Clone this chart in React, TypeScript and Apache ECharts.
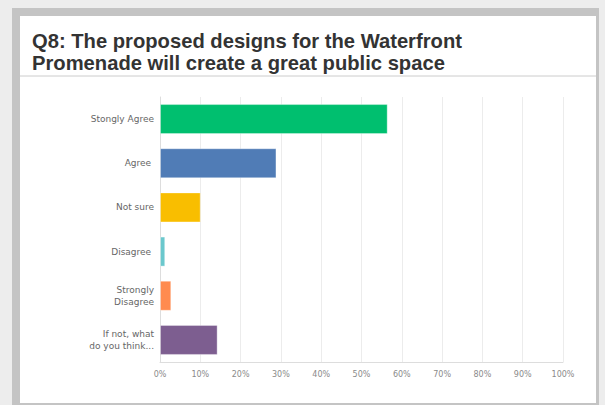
import React, { useEffect, useRef } from "react";
import * as echarts from "echarts";

const categories = [
  "Stongly Agree",
  "Agree ",
  "Not sure",
  "Disagree ",
  "Strongly\nDisagree",
  "If not, what\ndo you think...",
];
const values = [56.5, 28.9, 10.1, 1.3, 2.8, 14.3];
const barColors = ["#00bf6f", "#507cb6", "#f9be00", "#6bc8cd", "#ff8b4f", "#7d5e90"];
const titleLines = [
  "Q8: The proposed designs for the Waterfront",
  "Promenade will create a great public space",
];

export default function App() {
  const ref = useRef<HTMLDivElement>(null);
  useEffect(() => {
    if (!ref.current) return;
    const chart = echarts.init(ref.current, null, { renderer: "svg" });
    chart.setOption({
      animation: false,
      backgroundColor: "#ededed",
      graphic: [
        { type: "rect", z: -10, shape: { x: 12, y: 8, width: 587, height: 397 }, style: { fill: "#c4c4c4" } },
        { type: "rect", z: -9, shape: { x: 20, y: 16, width: 576, height: 387 }, style: { fill: "#ffffff" } },
        { type: "line", z: -8, shape: { x1: 20, y1: 76, x2: 596, y2: 76 }, style: { stroke: "#cccccc", lineWidth: 1 } },
      ],
      title: {
        text: titleLines.join("\n"),
        left: 27,
        top: 25,
        textStyle: {
          fontFamily: "Liberation Sans, Arial, sans-serif",
          fontWeight: "bold",
          fontSize: 20.2,
          lineHeight: 22,
          color: "#333333",
        },
      },
      grid: { left: 160, right: 42, top: 97, bottom: 43, containLabel: false },
      xAxis: {
        type: "value",
        min: 0,
        max: 100,
        interval: 10,
        axisLine: { show: true, lineStyle: { color: "#dddddd" } },
        axisTick: { show: false },
        splitLine: { show: true, lineStyle: { color: "#ececec" } },
        axisLabel: {
          formatter: "{value}%",
          color: "#8a8a8a",
          fontSize: 8,
          fontFamily: "DejaVu Sans, sans-serif",
          margin: 8,
        },
      },
      yAxis: {
        type: "category",
        data: categories,
        inverse: true,
        axisLine: { show: true, lineStyle: { color: "#dddddd" } },
        axisTick: { show: false },
        axisLabel: {
          color: "#666666",
          fontSize: 9,
          lineHeight: 12,
          fontFamily: "DejaVu Sans, sans-serif",
          margin: 6,
          align: "right",
        },
      },
      series: [
        {
          type: "bar",
          barCategoryGap: "32%",
          data: values.map((v, i) => ({
            value: v,
            itemStyle: { color: barColors[i], borderColor: "rgba(255,255,255,0.35)", borderWidth: 1 },
          })),
        },
      ],
    });
    return () => chart.dispose();
  }, []);
  return (
    <div
      ref={ref}
      style={{ position: "fixed", left: 0, top: 0, width: 605, height: 405 }}
    />
  );
}
